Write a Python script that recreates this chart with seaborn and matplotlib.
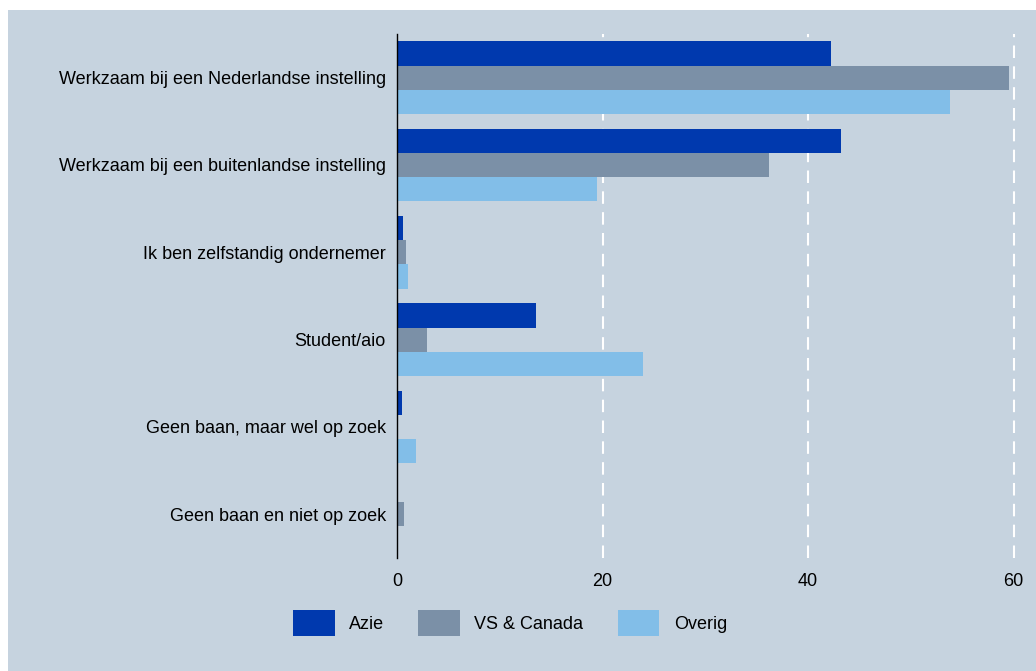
import matplotlib
matplotlib.use('Agg')
import matplotlib.pyplot as plt
from matplotlib.patches import Rectangle
import seaborn as sns
import pandas as pd

# categories and series values (percent)
categories = ['Werkzaam bij een Nederlandse instelling',
              'Werkzaam bij een buitenlandse instelling',
              'Ik ben zelfstandig ondernemer',
              'Student/aio',
              'Geen baan, maar wel op zoek',
              'Geen baan en niet op zoek']
series = ['Azie', 'VS & Canada', 'Overig']
azie = [42.2, 43.2, 0.55, 13.5, 0.5, 0.0]
vs_canada = [59.5, 36.2, 0.85, 2.9, 0.0, 0.7]
overig = [53.8, 19.5, 1.05, 23.9, 1.8, 0.0]
colors = ['#0039ae', '#7b90a7', '#82bee8']
bg = '#c6d3df'

rows = []
for name, vals in zip(series, [azie, vs_canada, overig]):
    for cat, v in zip(categories, vals):
        rows.append({'cat': cat, 'serie': name, 'waarde': v})
df = pd.DataFrame(rows)

sns.set_style('white')
plt.rcParams['font.family'] = ['Liberation Sans', 'DejaVu Sans']
plt.rcParams['text.color'] = 'black'

fs = 13
fig = plt.figure(figsize=(10.36, 6.71), dpi=100)
fig.patch.set_facecolor('white')
fig.patches.append(Rectangle((8 / 1036, 0), 1 - 8 / 1036, 1 - 10 / 671,
                             transform=fig.transFigure, facecolor=bg,
                             edgecolor='none', zorder=-10))
ax = fig.add_axes([397 / 1036, 113 / 671, 627 / 1036, 524 / 671])
ax.set_facecolor(bg)

sns.barplot(data=df, y='cat', x='waarde', hue='serie', hue_order=series,
            order=categories, palette=colors, width=0.83, orient='h',
            saturation=1, edgecolor='none', ax=ax)

ax.set_xlim(0, 61)
ax.set_xticks([0, 20, 40, 60])
for x in [20, 40, 60]:
    ax.axvline(x, color='white', lw=1.5, ls=(0, (6, 4)), zorder=0.5)
ax.set_axisbelow(True)
ax.set_xlabel('')
ax.set_ylabel('')
for s in ['top', 'right', 'bottom']:
    ax.spines[s].set_visible(False)
ax.spines['left'].set_color('black')
ax.spines['left'].set_linewidth(1.0)
ax.tick_params(axis='x', length=0, pad=11, labelsize=fs, colors='black')
ax.tick_params(axis='y', length=0, pad=8, labelsize=fs, colors='black')

leg = ax.legend(loc='center', bbox_to_anchor=(510 / 1036, 48 / 671),
                bbox_transform=fig.transFigure, ncol=3, frameon=False,
                fontsize=fs, handlelength=2.3, handleheight=1.9,
                handletextpad=0.8, columnspacing=1.9)
for t in leg.get_texts():
    t.set_color('black')

fig.savefig('out.png', dpi=100, facecolor=fig.get_facecolor())
